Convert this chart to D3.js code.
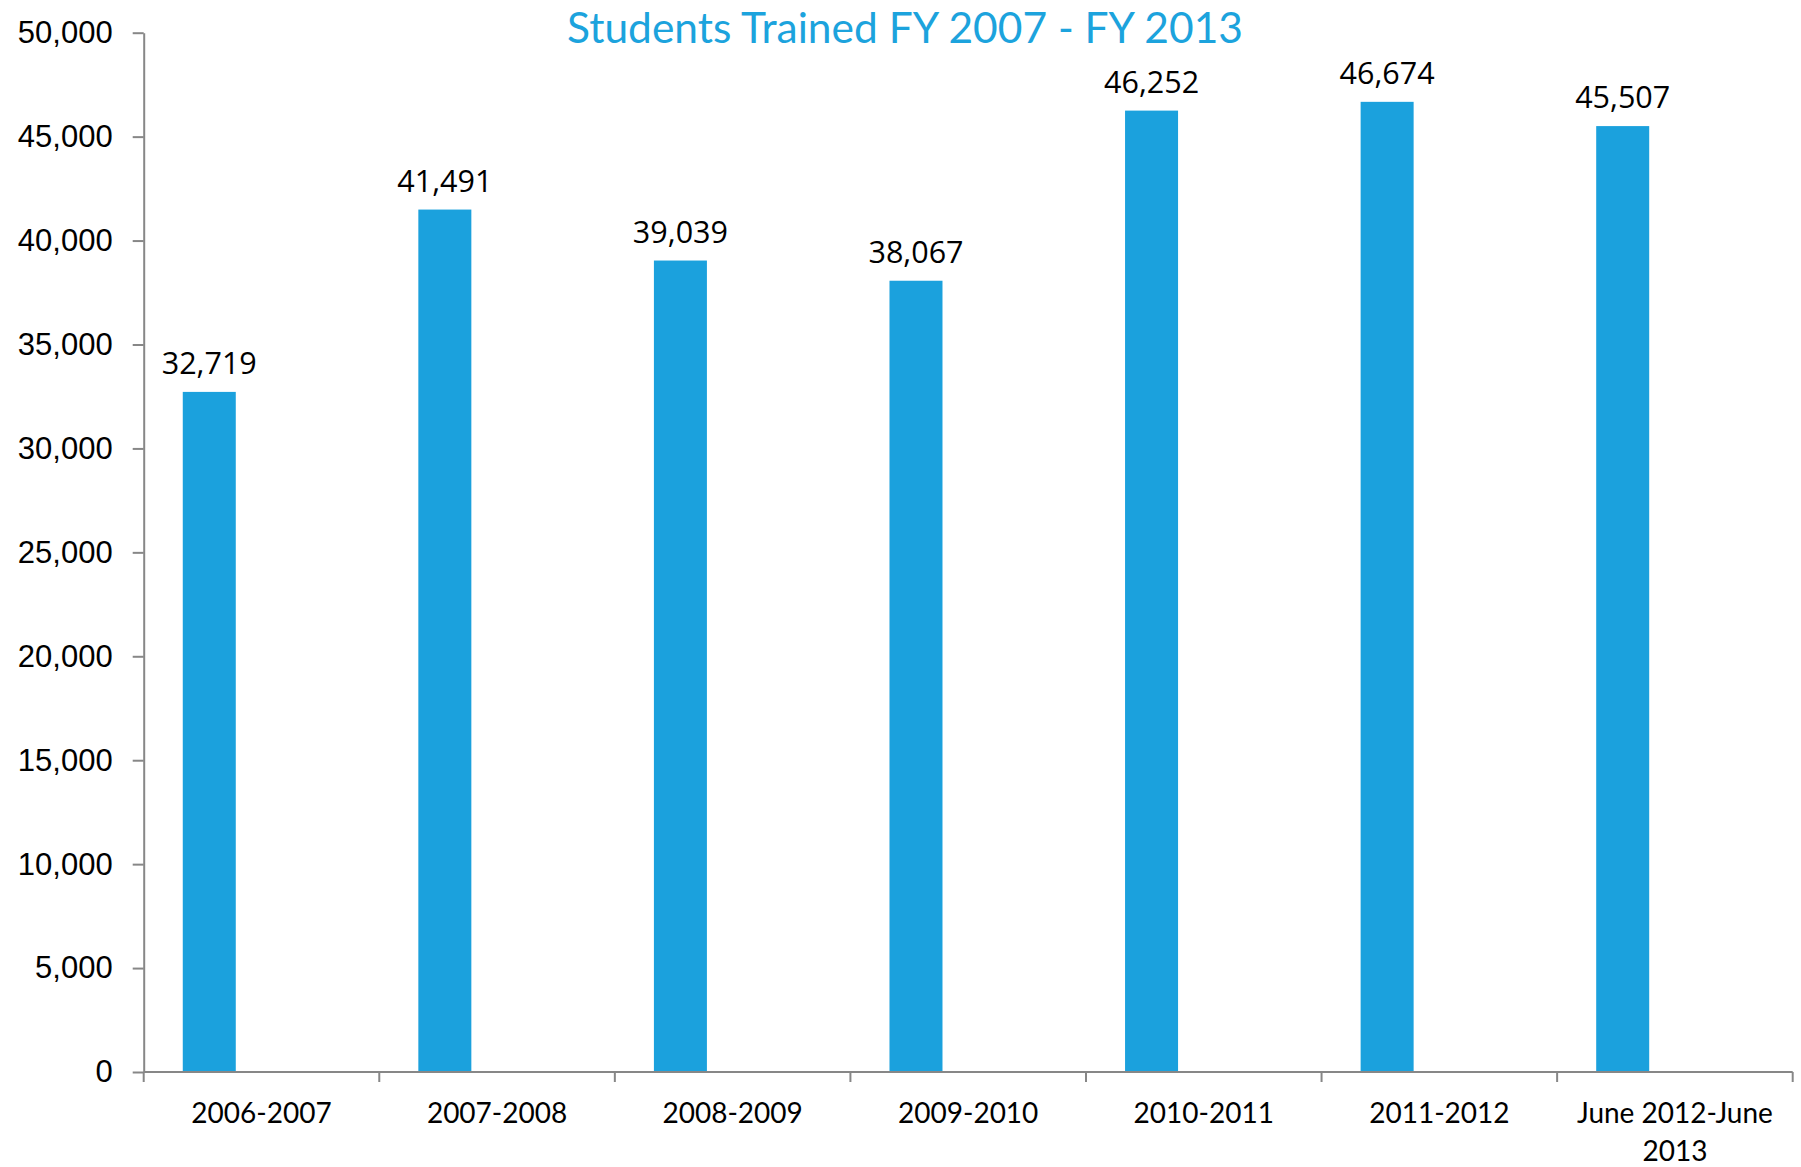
<!DOCTYPE html>
<html>
<head>
<meta charset="utf-8">
<script src="https://cdn.jsdelivr.net/npm/d3@7"></script>
<style>
  html, body { margin: 0; padding: 0; background: #ffffff; }
  svg { display: block; }
</style>
</head>
<body>
<svg id="chart" width="1801" height="1167"></svg>
<script>
// Students trained per fiscal year
const categories = ["2006-2007", "2007-2008", "2008-2009", "2009-2010", "2010-2011", "2011-2012", "June 2012-June 2013"];
const students = [32719, 41491, 39039, 38067, 46252, 46674, 45507];
const yTicks = [0, 5000, 10000, 15000, 20000, 25000, 30000, 35000, 40000, 45000, 50000];
const titleText = "Students Trained FY 2007 - FY 2013";

const W = 1801, H = 1167;
const margin = { top: 32.7, right: 8.3, bottom: 95, left: 143.7 };
const barColor = "#1ba1dd";
const axisColor = "#878787";

const svg = d3.select("#chart");

const y = d3.scaleLinear()
  .domain([0, 50000])
  .range([H - margin.bottom, margin.top]);

// One band per category (used for the axis ticks and labels)
const xCat = d3.scaleBand()
  .domain(categories)
  .range([margin.left, W - margin.right])
  .padding(0);

// Bars sit toward the left of each category slot
const xBar = d3.scaleBand()
  .domain(categories)
  .range([margin.left, W - margin.right])
  .paddingInner(0.775)
  .paddingOuter(0.3875)
  .align(0.214);

const data = categories.map((c, i) => ({ cat: c, value: students[i] }));

// Bars
svg.append("g")
  .selectAll("rect")
  .data(data)
  .join("rect")
  .attr("x", d => xBar(d.cat))
  .attr("y", d => y(d.value))
  .attr("width", xBar.bandwidth())
  .attr("height", d => y(0) - y(d.value))
  .attr("fill", barColor);

// Value labels above bars
svg.append("g")
  .selectAll("text")
  .data(data)
  .join("text")
  .attr("x", d => xBar(d.cat) + xBar.bandwidth() / 2)
  .attr("y", d => y(d.value) - 18)
  .attr("text-anchor", "middle")
  .attr("font-family", "'Open Sans', 'Noto Sans', sans-serif")
  .attr("font-size", 30.5)
  .attr("fill", "#000")
  .text(d => d3.format(",")(d.value));

// Y axis
const yAxis = svg.append("g")
  .attr("transform", `translate(${margin.left},0)`)
  .call(d3.axisLeft(y)
    .tickValues(yTicks)
    .tickSize(11)
    .tickSizeOuter(0)
    .tickPadding(20)
    .tickFormat(d3.format(",")));
yAxis.select(".domain").attr("stroke", axisColor).attr("stroke-width", 2);
yAxis.selectAll(".tick line").attr("stroke", axisColor).attr("stroke-width", 2);
yAxis.selectAll(".tick text")
  .attr("font-family", "'Liberation Sans', Arial, sans-serif")
  .attr("font-size", 31)
  .attr("fill", "#000");

// X axis line
const x0 = y(0);
svg.append("line")
  .attr("x1", xCat.range()[0])
  .attr("x2", xCat.range()[1])
  .attr("y1", x0)
  .attr("y2", x0)
  .attr("stroke", axisColor)
  .attr("stroke-width", 2);

// Tick marks on category boundaries
const boundaries = categories.map(c => xCat(c)).concat([xCat.range()[1]]);
svg.append("g")
  .selectAll("line")
  .data(boundaries)
  .join("line")
  .attr("x1", d => d)
  .attr("x2", d => d)
  .attr("y1", x0)
  .attr("y2", x0 + 10)
  .attr("stroke", axisColor)
  .attr("stroke-width", 2);

// Category labels, wrapped on spaces to fit each slot
const catLabels = svg.append("g")
  .selectAll("text")
  .data(categories)
  .join("text")
  .attr("x", d => xCat(d) + xCat.bandwidth() / 2)
  .attr("y", x0 + 51)
  .attr("text-anchor", "middle")
  .attr("font-family", "Lato, 'Open Sans', sans-serif")
  .attr("font-size", 28)
  .attr("fill", "#000");

catLabels.each(function(d) {
  const text = d3.select(this);
  const words = d.split(" ");
  const maxW = xCat.bandwidth() - 10;
  const cx = xCat(d) + xCat.bandwidth() / 2;
  let line = [];
  let tspan = text.append("tspan").attr("x", cx).attr("dy", 0);
  words.forEach(w => {
    line.push(w);
    tspan.text(line.join(" "));
    if (tspan.node().getComputedTextLength() > maxW && line.length > 1) {
      line.pop();
      tspan.text(line.join(" "));
      line = [w];
      tspan = text.append("tspan").attr("x", cx).attr("dy", 38).text(w);
    }
  });
});

// Title
svg.append("text")
  .attr("x", 905)
  .attr("y", 43)
  .attr("text-anchor", "middle")
  .attr("font-family", "Lato, 'Open Sans', sans-serif")
  .attr("font-size", 42.5)
  .attr("fill", "#1ca3dd")
  .text(titleText);
</script>
</body>
</html>
